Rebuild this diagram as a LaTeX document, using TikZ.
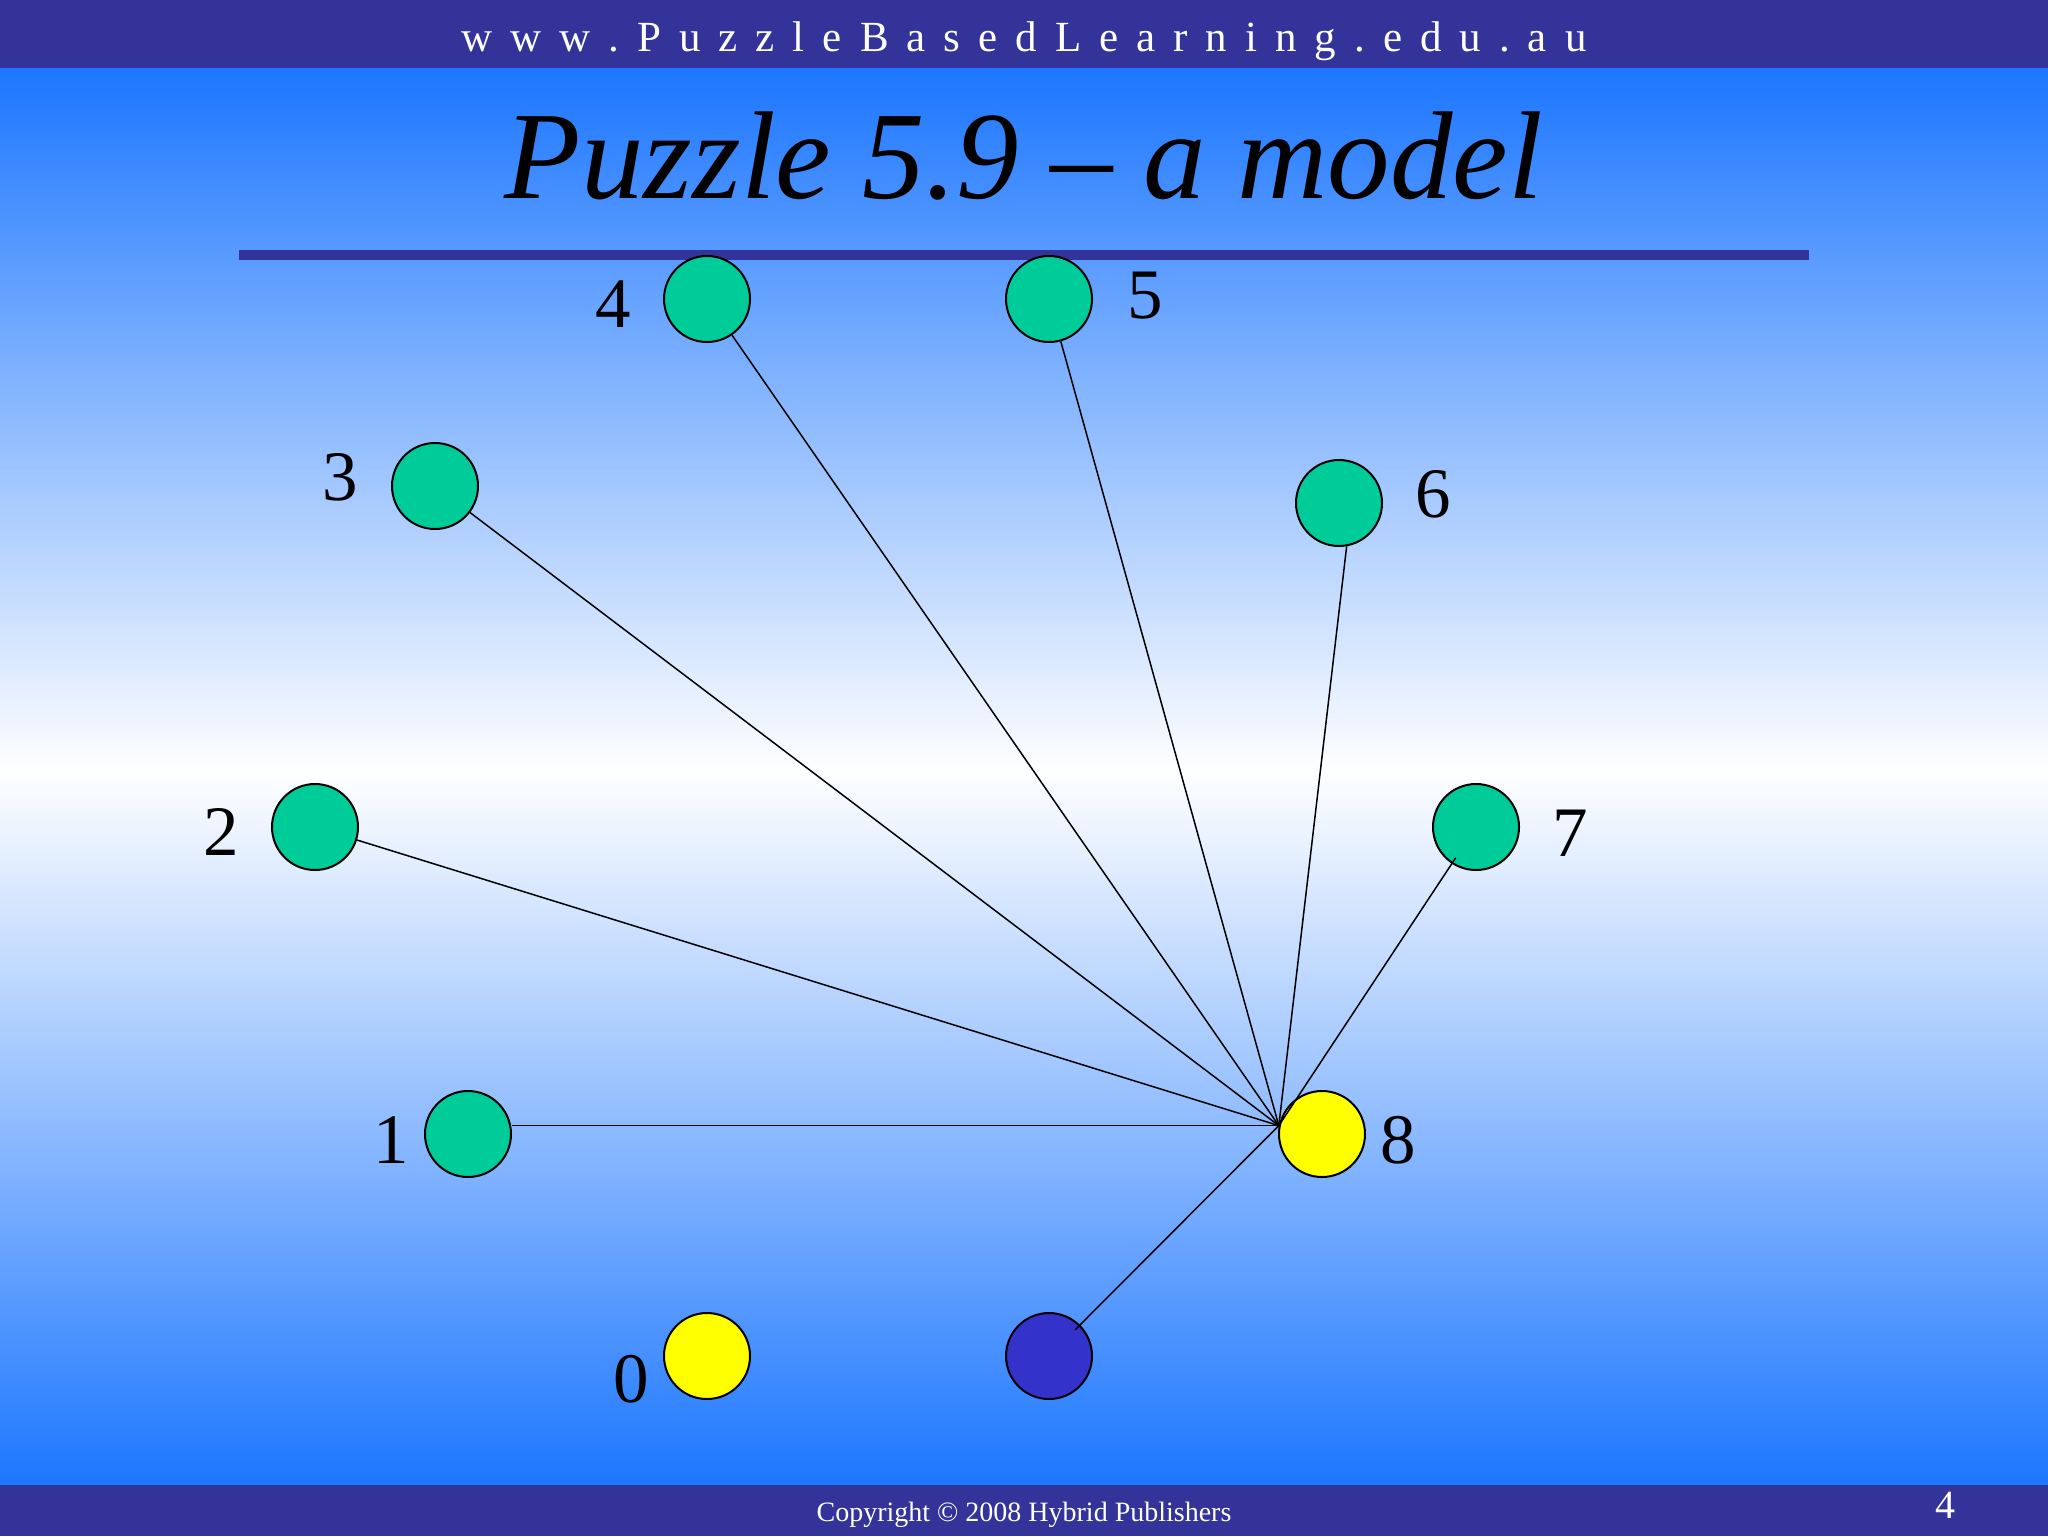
\documentclass[tikz,border=0pt]{standalone}
\usepackage{fontspec}
\setmainfont{Liberation Serif}
\definecolor{barblue}{RGB}{51,51,153}
\definecolor{skyblue}{RGB}{28,118,255}
\definecolor{nodegreen}{RGB}{0,204,153}
\definecolor{nodeyellow}{RGB}{255,255,0}
\definecolor{nodeblue}{RGB}{51,51,204}
\newcommand\ls{\hspace{9pt}}
\begin{document}
\begin{tikzpicture}[x=0.5pt,y=-0.5pt,
  ball/.style={circle,draw=black,line width=1pt,minimum size=43pt,inner sep=0pt},
  numlabel/.style={inner sep=0pt,font=\fontsize{35.5pt}{40pt}\selectfont},
  spoke/.style={line width=0.75pt,draw=black}]
\useasboundingbox (0,0) rectangle (2048,1536);
% background
\shade[top color=skyblue,bottom color=white] (0,68) rectangle (2048,772);
\shade[top color=white,bottom color=skyblue] (0,771) rectangle (2048,1486);
\fill[barblue] (0,0) rectangle (2048,68);
\fill[barblue] (0,1485) rectangle (2048,1536);
% header / footer
\node[anchor=base,text=white,inner sep=0pt,font=\fontsize{21.5pt}{24pt}\selectfont] (url) at (1024,52)
 {w\ls w\ls w\ls .\ls P\ls u\ls z\ls z\ls l\ls e\ls B\ls a\ls s\ls e\ls d\ls L\ls e\ls a\ls r\ls n\ls i\ls n\ls g\ls .\ls e\ls d\ls u\ls .\ls a\ls u};
\node[anchor=base,text=white,inner sep=0pt,font=\fontsize{14pt}{16pt}\selectfont] (copy) at (1024,1521)
 {Copyright © 2008 Hybrid Publishers};
\node[anchor=base,text=white,inner sep=0pt,font=\fontsize{20pt}{22pt}\selectfont] (page) at (1945,1518) {4};
% title
\node[anchor=base,inner sep=0pt,font=\fontsize{62.5pt}{70pt}\selectfont\itshape] (title) at (1024,198)
 {Puzzle 5.9 – a model};
\fill[barblue] (239,250) rectangle (1809,260);
% nodes
\node[ball,fill=nodegreen] (n4) at (707,299) {};
\node[ball,fill=nodegreen] (n5) at (1049,299) {};
\node[ball,fill=nodegreen] (n3) at (435,486) {};
\node[ball,fill=nodegreen] (n6) at (1339,503) {};
\node[ball,fill=nodegreen] (n2) at (315,827) {};
\node[ball,fill=nodegreen] (n7) at (1476,827) {};
\node[ball,fill=nodegreen] (n1) at (468,1134) {};
\node[ball,fill=nodeyellow] (n8) at (1322,1134) {};
\node[ball,fill=nodeyellow] (n0) at (707,1356) {};
\node[ball,fill=nodeblue] (nb) at (1049,1356) {};
\coordinate (hub) at (n8.169);
% spokes
\draw[spoke] (hub) -- (hub -| n1.east);
\draw[spoke] (hub) -- (n2);
\draw[spoke] (hub) -- (n3);
\draw[spoke] (hub) -- (n4);
\draw[spoke] (hub) -- (n5);
\draw[spoke] (hub) -- (n6.280);
\draw[spoke,shorten >=-3.5pt] (hub) -- (n7);
\draw[spoke,shorten >=-3.5pt] (hub) -- (nb);
% labels
\node[numlabel] (l4) at (613,304) {4};
\node[numlabel] (l5) at (1145,296) {5};
\node[numlabel] (l3) at (340,477) {3};
\node[numlabel] (l6) at (1433,494) {6};
\node[numlabel] (l2) at (221,832) {2};
\node[numlabel] (l7) at (1570,833) {7};
\node[numlabel] (l1) at (391,1140) {1};
\node[numlabel] (l8) at (1398,1140) {8};
\node[numlabel] (l0) at (631,1379) {0};
\end{tikzpicture}
\end{document}
